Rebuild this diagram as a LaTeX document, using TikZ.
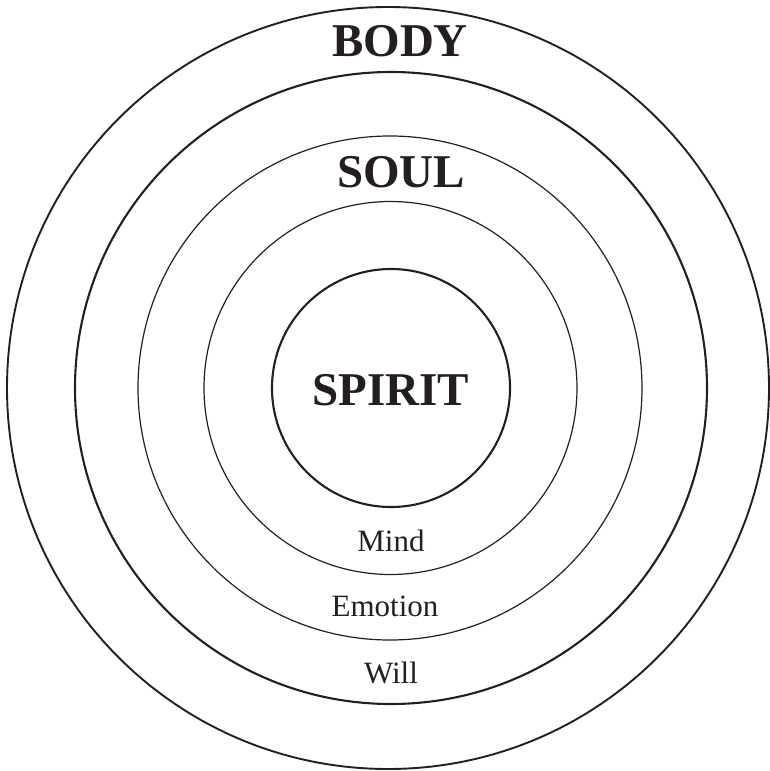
\documentclass[tikz,border=0pt]{standalone}
\usepackage{fontspec}
\setmainfont{Liberation Serif}
\usepackage{tikz}
\definecolor{ink}{HTML}{231F20}

\begin{document}
\begin{tikzpicture}[x=1pt,y=-1pt,
 ring/.style={draw=ink,line width=2.1pt},
 thinring/.style={draw=ink,line width=1.2pt},
 big/.style={anchor=base,text=ink,inner sep=0pt,font=\fontsize{47}{50}\selectfont\bfseries},
 small/.style={anchor=base,text=ink,inner sep=0pt,font=\fontsize{31}{34}\selectfont}]
\useasboundingbox (0,0) rectangle (769,771);
\draw[ring,line width=1.9pt] (388,388) circle (381);
\draw[ring] (391,388) circle (316);
\draw[thinring] (390,388) circle (252);
\draw[thinring] (390.5,388) circle (186.5);
\draw[ring] (391,388) circle (119);
\node[big] (body) at (400,56) {BODY};
\node[big] (soul) at (401,187) {SOUL};
\node[big] (spirit) at (391,405) {SPIRIT};
\node[small] (mind) at (391,551) {Mind};
\node[small] (emotion) at (385,616) {Emotion};
\node[small] (will) at (391,683) {Will};
\end{tikzpicture}
\end{document}
